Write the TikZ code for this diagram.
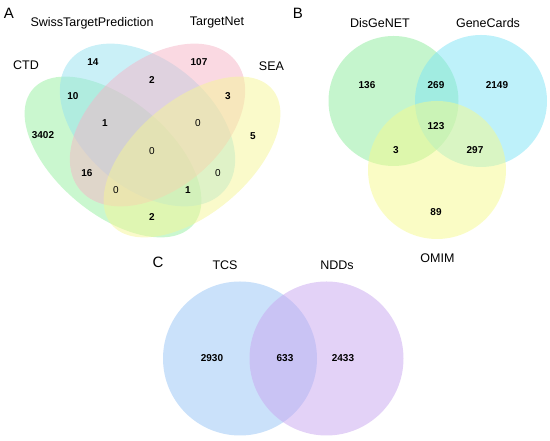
\documentclass[tikz,border=0pt]{standalone}
\usepackage{fontspec}
\setmainfont{Liberation Sans}
\usepackage{tikz}
\usetikzlibrary{positioning}

\definecolor{ctdgreen}{RGB}{150,240,160}
\definecolor{swissblue}{RGB}{150,225,240}
\definecolor{netpink}{RGB}{245,180,198}
\definecolor{seayellow}{RGB}{245,245,150}
\definecolor{disgreen}{RGB}{140,235,155}
\definecolor{genecyan}{RGB}{125,228,245}
\definecolor{omimyellow}{RGB}{245,250,140}
\definecolor{tcsblue}{RGB}{150,195,245}
\definecolor{nddpurple}{RGB}{200,165,240}

\begin{document}
\begin{tikzpicture}[x=1pt, y=1pt,
    setlabel/.style={font=\fontsize{12.5}{14}\selectfont, inner sep=0pt},
    count/.style={font=\fontsize{10}{12}\selectfont\bfseries, inner sep=0pt},
    zero/.style={font=\fontsize{10}{12}\selectfont, inner sep=0pt},
    panel/.style={font=\fontsize{15}{17}\selectfont, inner sep=0pt},
    venn/.style={fill opacity=0.5}]
    \useasboundingbox (0,0) rectangle (550,441);

    % Panel A: four ellipses
    \begin{scope}[shift={(113,284)}, rotate=-40]
        \fill[venn, ctdgreen] (0,0) ellipse [x radius=105pt, y radius=57pt];
    \end{scope}
    \begin{scope}[shift={(147.5,316)}, rotate=-40]
        \fill[venn, swissblue] (0,0) ellipse [x radius=101pt, y radius=64pt];
    \end{scope}
    \begin{scope}[shift={(157.5,316)}, rotate=40]
        \fill[venn, netpink] (0,0) ellipse [x radius=101pt, y radius=64pt];
    \end{scope}
    \begin{scope}[shift={(192,284)}, rotate=40]
        \fill[venn, seayellow] (0,0) ellipse [x radius=105pt, y radius=57pt];
    \end{scope}

    \node[panel] (panelA) at (9,428) {A};
    \node[setlabel] (lblSwiss) at (92,418) {SwissTargetPrediction};
    \node[setlabel] (lblNet) at (217,418) {TargetNet};
    \node[setlabel] (lblCTD) at (26,376) {CTD};
    \node[setlabel] (lblSEA) at (271.5,375) {SEA};

    % Panel A: counts
    \node[count] (aSwiss) at (93,379) {14};
    \node[count] (aNet) at (199,379) {107};
    \node[count] (aSwissNet) at (152,361) {2};
    \node[count] (aCtdSwiss) at (73,345) {10};
    \node[count] (aNetSea) at (228,345) {3};
    \node[count] (aCtd) at (43,306) {3402};
    \node[count] (aSea) at (253,305) {5};
    \node[count] (aCtdSwissNet) at (105,318) {1};
    \node[zero] (aSwissNetSea) at (198,318) {0};
    \node[zero] (aAll) at (152,290) {0};
    \node[count] (aCtdNet) at (87,268) {16};
    \node[zero] (aSwissSea) at (218,268) {0};
    \node[zero] (aCtdNetSea) at (116,251) {0};
    \node[count] (aCtdSwissSea) at (188,251) {1};
    \node[count] (aCtdSea) at (152,224) {2};

    % Panel B: three circles
    \fill[venn, disgreen] (393.5,340) circle (65pt);
    \fill[venn, genecyan] (481,340) circle (66pt);
    \fill[venn, omimyellow] (437,271) circle (69pt);

    \node[panel] (panelB) at (298,428) {B};
    \node[setlabel] (lblDis) at (380,418) {DisGeNET};
    \node[setlabel] (lblGene) at (488,418) {GeneCards};
    \node[setlabel] (lblOmim) at (437.5,183) {OMIM};

    \node[count] (bDis) at (367,356) {136};
    \node[count] (bDisGene) at (436,356) {269};
    \node[count] (bGene) at (497,356) {2149};
    \node[count] (bAll) at (436,315) {123};
    \node[count] (bDisOmim) at (396,291) {3};
    \node[count] (bGeneOmim) at (475,291) {297};
    \node[count] (bOmim) at (436,229) {89};

    % Panel C: two circles
    \fill[venn, tcsblue] (240,82.5) circle (77pt);
    \fill[venn, nddpurple] (326.5,82.5) circle (77pt);

    \node[panel] (panelC) at (158,179) {C};
    \node[setlabel] (lblTcs) at (225,176) {TCS};
    \node[setlabel] (lblNdd) at (337,176) {NDDs};

    \node[count] (cTcs) at (212,83) {2930};
    \node[count] (cBoth) at (285,83) {633};
    \node[count] (cNdd) at (343,83) {2433};

\end{tikzpicture}
\end{document}
